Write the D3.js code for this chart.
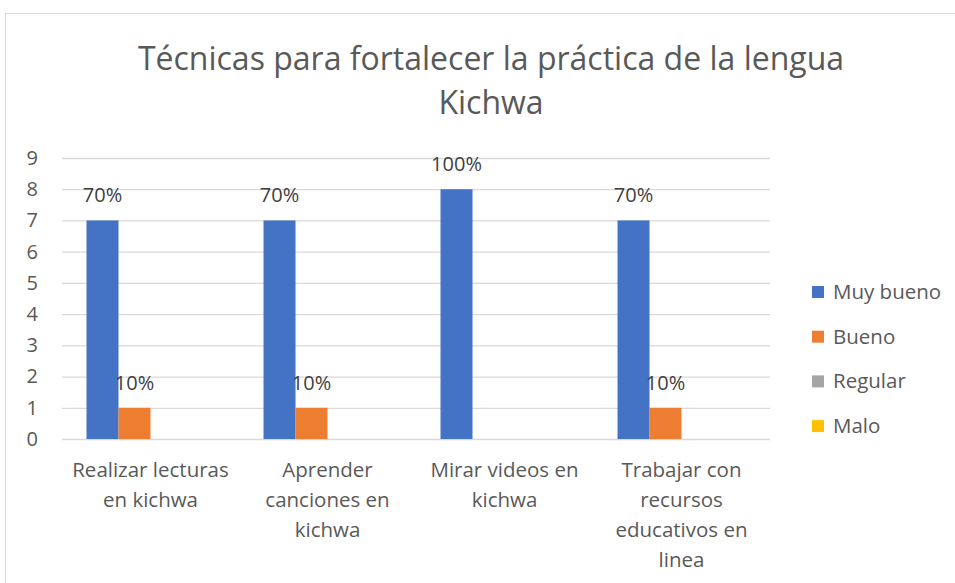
<!DOCTYPE html>
<html>
<head>
<meta charset="utf-8">
<script src="https://cdn.jsdelivr.net/npm/d3@7"></script>
<style>
  body { margin: 0; background: #fff; }
  svg text { font-family: "Open Sans", sans-serif; }
</style>
</head>
<body>
<div id="chart"></div>
<script>
// data
var categories = ["Realizar lecturas en kichwa", "Aprender canciones en kichwa", "Mirar videos en kichwa", "Trabajar con recursos educativos en linea"];
var categoryLines = [
  ["Realizar lecturas", "en kichwa"],
  ["Aprender", "canciones en", "kichwa"],
  ["Mirar videos en", "kichwa"],
  ["Trabajar con", "recursos", "educativos en", "linea"]
];
var seriesNames = ["Muy bueno", "Bueno", "Regular", "Malo"];
var muyBueno = [7, 7, 8, 7];
var bueno = [1, 1, 0, 1];
var regular = [0, 0, 0, 0];
var malo = [0, 0, 0, 0];
var muyBuenoLabels = ["70%", "70%", "100%", "70%"];
var buenoLabels = ["10%", "10%", "", "10%"];
var regularLabels = ["", "", "", ""];
var maloLabels = ["", "", "", ""];
var yTicks = [0, 1, 2, 3, 4, 5, 6, 7, 8, 9];
var colors = ["#4472C4", "#ED7D31", "#A5A5A5", "#FFC000"];

var seriesValues = [muyBueno, bueno, regular, malo];
var seriesLabels = [muyBuenoLabels, buenoLabels, regularLabels, maloLabels];

var width = 955, height = 583;
var plotLeft = 62, plotRight = 770, plotTop = 158, plotBottom = 439;

var svg = d3.select("#chart").append("svg")
    .attr("width", width)
    .attr("height", height);

// chart frame
svg.append("rect")
    .attr("x", 5.5).attr("y", 13.5)
    .attr("width", 960).attr("height", 600)
    .attr("fill", "#fff")
    .attr("stroke", "#d9d9d9")
    .attr("stroke-width", 1);

// title
svg.append("text")
    .attr("x", 491)
    .attr("y", 70)
    .attr("text-anchor", "middle")
    .style("font-size", "32px")
    .style("fill", "#595959")
    .selectAll("tspan")
    .data(["Técnicas para fortalecer la práctica de la lengua", "Kichwa"])
    .enter().append("tspan")
    .attr("x", 491)
    .attr("dy", (d, i) => i == 0 ? 0 : 44)
    .text(d => d);

var yScale = d3.scaleLinear()
    .domain([0, 9])
    .range([plotBottom, plotTop]);

var x0 = d3.scaleBand()
    .domain(categories)
    .range([plotLeft, plotRight]);

var groupWidth = x0.step() * 0.723;
var x1 = d3.scaleBand()
    .domain(seriesNames)
    .range([0, groupWidth]);

// gridlines + y labels
var yAxis = d3.axisLeft(yScale)
    .tickValues(yTicks)
    .tickSize(-(plotRight - plotLeft))
    .tickPadding(24)
    .tickSizeOuter(0);

var gy = svg.append("g")
    .attr("transform", "translate(" + plotLeft + ",0)")
    .call(yAxis);
gy.select(".domain").remove();
gy.selectAll(".tick line")
    .attr("stroke", "#d9d9d9")
    .attr("stroke-width", 1.3);
gy.selectAll(".tick text")
    .style("font-size", "20px")
    .style("fill", "#595959");

// bars
var rows = [];
seriesNames.forEach(function (s, si) {
  categories.forEach(function (c, ci) {
    rows.push({ series: s, si: si, cat: c, value: seriesValues[si][ci], label: seriesLabels[si][ci] });
  });
});

var offset = (x0.step() - groupWidth) / 2;

svg.selectAll(".bar")
    .data(rows)
    .enter().append("rect")
    .attr("class", "bar")
    .attr("x", d => x0(d.cat) + offset + x1(d.series))
    .attr("y", d => yScale(d.value))
    .attr("width", x1.bandwidth())
    .attr("height", d => yScale(0) - yScale(d.value))
    .attr("fill", d => colors[d.si]);

// data labels
svg.selectAll(".lbl")
    .data(rows.filter(d => d.label != ""))
    .enter().append("text")
    .attr("class", "lbl")
    .attr("x", d => x0(d.cat) + offset + x1(d.series) + x1.bandwidth() / 2)
    .attr("y", d => yScale(d.value) - 18)
    .attr("text-anchor", "middle")
    .style("font-size", "20px")
    .style("fill", "#404040")
    .text(d => d.label);

// category labels
var catText = svg.selectAll(".cat")
    .data(categories)
    .enter().append("text")
    .attr("class", "cat")
    .attr("x", d => x0(d) + x0.bandwidth() / 2)
    .attr("y", 477)
    .attr("text-anchor", "middle")
    .style("font-size", "20.5px")
    .style("fill", "#595959");

catText.selectAll("tspan")
    .data((d, i) => categoryLines[i].map(t => ({ t: t, x: x0(d) + x0.bandwidth() / 2 })))
    .enter().append("tspan")
    .attr("x", d => d.x)
    .attr("dy", (d, i) => i == 0 ? 0 : 30)
    .text(d => d.t);

// legend
var legend = svg.selectAll(".legend")
    .data(seriesNames)
    .enter().append("g")
    .attr("class", "legend")
    .attr("transform", (d, i) => "translate(812," + (292 + i * 44.7) + ")");

legend.append("rect")
    .attr("x", 0).attr("y", -6)
    .attr("width", 12).attr("height", 12)
    .attr("fill", (d, i) => colors[i]);

legend.append("text")
    .attr("x", 21)
    .attr("y", 7)
    .style("font-size", "20.5px")
    .style("fill", "#595959")
    .text(d => d);
</script>
</body>
</html>
